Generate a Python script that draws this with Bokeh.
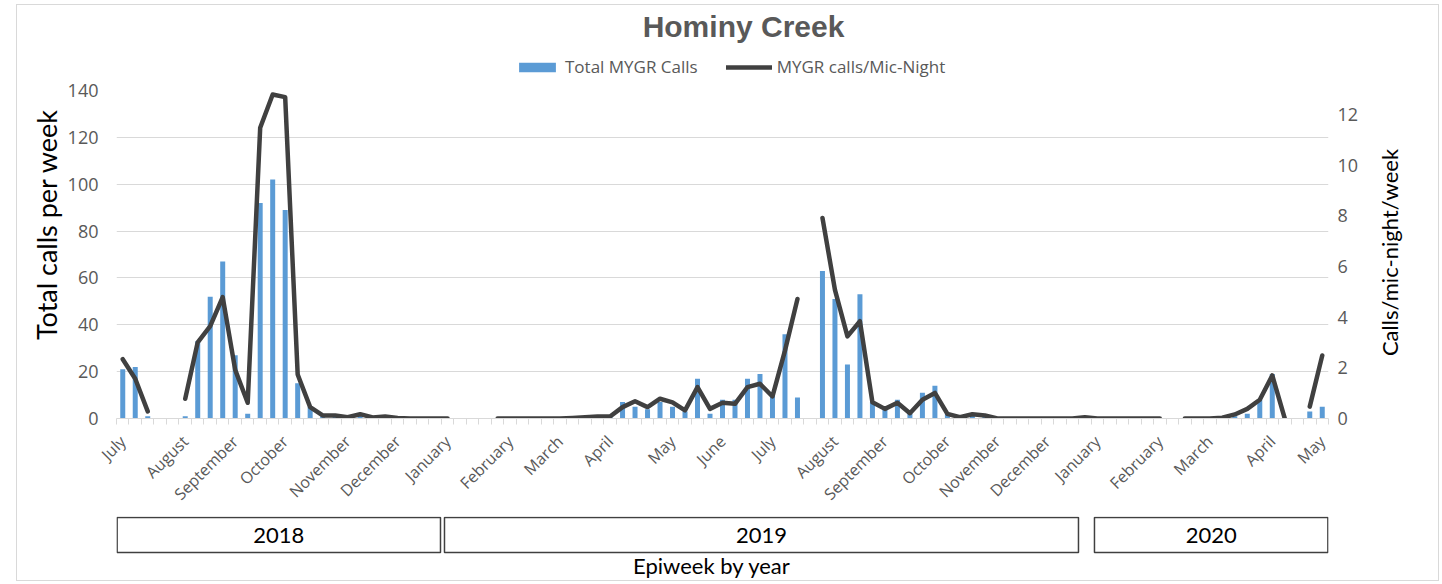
import math
from bokeh.plotting import figure
from bokeh.models import (Range1d, LinearAxis, FixedTicker, Legend, LegendItem,
                          Label, ColumnDataSource)
from bokeh.layouts import column, row
from bokeh.embed import file_html
from bokeh.resources import INLINE
from bokeh.core.properties import value

nan = float("nan")

# ---------------- data (one entry per epiweek, 2018 wk27 .. 2020 wk19) -------------
total_calls = [
    21, 22, 1, nan, nan, 1, 33, 52, 67, 27, 2, 92, 102, 89, 15, 5, 1, 1, 0, 2,
    0, 1, 0, 0, 0, 0, nan, nan, nan, nan, 0, 0, 0, 0, 0, 0, 0, 1, 1, 1,
    7, 5, 4, 7, 5, 3, 17, 2, 8, 8, 17, 19, 10, 36, 9, nan, 63, 51, 23, 53,
    7, 4, 8, 2, 11, 14, 2, 1, 2, 1, 0, 0, 0, 0, 0, 0, 0, 1, 0, 0,
    0, 0, 0, 0, nan, 0, 0, 0, 0, 1, 2, 8, 19, 0, nan, 3, 5,
]
calls_per_mic_night = [
    2.34, 1.57, 0.28, nan, nan, 0.78, 3.01, 3.65, 4.79, 1.92, 0.62, 11.48, 12.79, 12.69, 1.74, 0.45, 0.12, 0.12, 0.05, 0.17,
    0.04, 0.08, 0.02, 0, 0, 0, 0, nan, nan, nan, 0, 0, 0, 0, 0, 0, 0.02, 0.05, 0.08, 0.08,
    0.45, 0.68, 0.45, 0.78, 0.64, 0.32, 1.24, 0.38, 0.62, 0.58, 1.24, 1.37, 0.87, 2.68, 4.72, nan, 7.92, 5.08, 3.24, 3.84,
    0.64, 0.38, 0.62, 0.21, 0.74, 1.01, 0.18, 0.05, 0.17, 0.12, 0, 0, 0, 0, 0, 0, 0, 0.05, 0, 0,
    0, 0, 0, 0, nan, 0, 0, 0, 0.03, 0.16, 0.38, 0.74, 1.70, 0, nan, 0.47, 2.49,
]
week_index = list(range(len(total_calls)))

month_labels = ["July", "August", "September", "October", "November", "December",
                "January", "February", "March", "April", "May", "June", "July",
                "August", "September", "October", "November", "December",
                "January", "February", "March", "April", "May"]
month_label_weeks = [0, 5, 9, 13, 18, 22,
                     26, 31, 35, 39, 44, 48, 52, 57, 61, 66, 70, 74,
                     78, 83, 87, 92, 96]

years = ["2018", "2019", "2020"]
year_box_start = [-0.45, 25.75, 77.77]
year_box_end = [25.43, 76.49, 96.45]

left_ticks = [0, 20, 40, 60, 80, 100, 120, 140]
right_ticks = [0, 2, 4, 6, 8, 10, 12]
left_max = 140
right_max = 12.95

# ---------------- layout constants (page px) ----------------
OX, OY = 17, 5                 # chart area origin on the page
RIGHT_EDGE, BOTTOM_EDGE = 1438, 580
COL_L, COL_R = 64, 1376        # central column (page px)
FRAME_L, FRAME_R = 116, 1328   # plot area left/right (page px)
FRAME_T, FRAME_B = 90, 418     # plot area top/bottom (page px)
TOPPAD = 12                    # room above the frame for the top tick labels
W = COL_R - COL_L
FL = FRAME_L - COL_L
FR = COL_R - FRAME_R
FB = 98
H0 = FRAME_T - TOPPAD - OY                  # header (title + legend)
H1 = TOPPAD + (FRAME_B - FRAME_T) + FB      # main plot
H2 = BOTTOM_EDGE - (FRAME_B + FB)           # year boxes
HT = BOTTOM_EDGE - OY

n = len(week_index)
x0, x1 = -0.5, n - 0.5
cat_px = (FRAME_R - FRAME_L) / n


def xdata(page_x):
    return (page_x - FRAME_L) / cat_px + x0


GRAY = "#595959"
GRID = "#d9d9d9"
BAR = "#5b9bd5"
LINE = "#404040"


def bare(fig):
    fig.outline_line_color = None
    fig.xgrid.grid_line_color = None
    fig.ygrid.grid_line_color = None
    fig.border_fill_color = "white"
    fig.background_fill_color = "white"
    return fig


src = ColumnDataSource(dict(x=week_index, total=total_calls, rate=calls_per_mic_night))

# ---------------- header figure: title and legend ----------------
p0 = bare(figure(width=W, height=H0, x_range=Range1d(x0, x1), y_range=Range1d(H0, 0),
                 output_backend="svg", toolbar_location=None,
                 min_border_left=FL, min_border_right=FR, min_border_top=0,
                 min_border_bottom=0, x_axis_location=None, y_axis_location=None))
# hidden proxies (same data and style as the chart) that feed the legend
bars0 = p0.vbar(x="x", top="total", width=0.4, source=src, fill_color=BAR,
                line_color=None, visible=False)
line0 = p0.line(x="x", y="rate", source=src, line_color=LINE, line_width=4.5,
                line_join="round", line_cap="round", visible=False)
p0.add_layout(Label(x=xdata(743), y=26 - OY, text="Hominy Creek",
                    text_align="center", text_baseline="middle",
                    text_font="Liberation Sans", text_font_size="30px",
                    text_font_style="bold", text_color=GRAY))
legend = Legend(items=[LegendItem(label="Total MYGR Calls", renderers=[bars0]),
                       LegendItem(label="MYGR calls/Mic-Night", renderers=[line0])],
                orientation="horizontal", location=(514 - FRAME_L, 0), click_policy="none",
                border_line_color=None, background_fill_alpha=0,
                label_text_font="Open Sans", label_text_font_size="17px",
                label_text_color=GRAY, glyph_width=46, glyph_height=12,
                spacing=28, label_standoff=5, padding=0, margin=0)
p0.add_layout(legend)

# ---------------- main figure ----------------
p = figure(width=W, height=H1, x_range=p0.x_range, y_range=Range1d(0, left_max),
           output_backend="svg", toolbar_location=None,
           min_border_left=FL, min_border_right=FR, min_border_top=TOPPAD,
           min_border_bottom=FB, y_axis_location=None, x_axis_location=None)
p.outline_line_color = None
p.background_fill_color = "white"
p.border_fill_color = "white"
p.extra_y_ranges = {"rate": Range1d(0, right_max)}

bars = p.vbar(x="x", top="total", width=0.4, source=src, fill_color=BAR, line_color=None)
line = p.line(x="x", y="rate", source=src, y_range_name="rate", line_color=LINE,
              line_width=4.5, line_join="round", line_cap="round")

# x axis
xaxis = LinearAxis(ticker=FixedTicker(ticks=month_label_weeks,
                                      minor_ticks=[x0 + i for i in range(n + 1)]))
xaxis.major_label_overrides = {w: m for w, m in zip(month_label_weeks, month_labels)}
xaxis.major_label_orientation = math.pi / 4
xaxis.major_label_text_font = "Open Sans"
xaxis.major_label_text_font_size = "16px"
xaxis.major_label_text_color = GRAY
xaxis.major_tick_line_color = None
xaxis.major_tick_out = 0
xaxis.major_tick_in = 0
xaxis.minor_tick_line_color = GRID
xaxis.minor_tick_out = 6
xaxis.minor_tick_in = 0
xaxis.axis_line_color = GRID
xaxis.major_label_standoff = 14
p.add_layout(xaxis, "below")

# left axis
yl = LinearAxis(ticker=FixedTicker(ticks=left_ticks))
yl.axis_line_color = None
yl.major_tick_line_color = None
yl.minor_tick_line_color = None
yl.major_tick_out = 0
yl.major_label_standoff = 18
yl.major_label_text_font = "Open Sans"
yl.major_label_text_font_size = "18px"
yl.major_label_text_color = GRAY
p.add_layout(yl, "left")

# right axis
yr = LinearAxis(y_range_name="rate", ticker=FixedTicker(ticks=right_ticks))
yr.axis_line_color = None
yr.major_tick_line_color = None
yr.minor_tick_line_color = None
yr.major_tick_out = 0
yr.major_label_standoff = 9
yr.major_label_text_font = "Open Sans"
yr.major_label_text_font_size = "18px"
yr.major_label_text_color = GRAY
p.add_layout(yr, "right")

p.ygrid.ticker = FixedTicker(ticks=left_ticks)
p.ygrid.grid_line_color = GRID
p.xgrid.grid_line_color = None
p.ygrid.grid_line_width = 1

# ---------------- year boxes figure ----------------
p2 = bare(figure(width=W, height=H2, x_range=p0.x_range, y_range=Range1d(H2, 0),
                 output_backend="svg", toolbar_location=None,
                 min_border_left=FL, min_border_right=FR, min_border_top=0,
                 min_border_bottom=0, x_axis_location=None, y_axis_location=None))
box_src = ColumnDataSource(dict(
    left=year_box_start, right=year_box_end,
    cx=[(a + b) / 2 for a, b in zip(year_box_start, year_box_end)], year=years))
p2.quad(left="left", right="right", top=1, bottom=36, source=box_src,
        fill_color=None, line_color=LINE, line_width=1.5)
p2.text(x="cx", y=18.5, text="year", source=box_src, text_align="center",
        text_baseline="middle", text_font=value("Lato"), text_font_size="22px",
        text_color="black")
p2.text(x=[xdata(711.5)], y=[49], text=["Epiweek by year"],
        text_align="center", text_baseline="middle", text_font=value("Lato"),
        text_font_size="22px", text_color="black")

# ---------------- side strips carrying the two axis titles ----------------
WL = COL_L - OX
qL = bare(figure(width=WL, height=HT, x_range=Range1d(0, WL), y_range=Range1d(HT, 0),
                 output_backend="svg", toolbar_location=None, min_border=0,
                 x_axis_location=None, y_axis_location=None))
qL.text(x=[46 - OX], y=[224 - OY], text=["Total calls per week"], angle=math.pi / 2,
        text_align="center", text_baseline="middle", text_font=value("Lato"),
        text_font_size="27px", text_color="black")

WR = RIGHT_EDGE - COL_R
qR = bare(figure(width=WR, height=HT, x_range=Range1d(0, WR), y_range=Range1d(HT, 0),
                 output_backend="svg", toolbar_location=None, min_border=0,
                 x_axis_location=None, y_axis_location=None))
qR.text(x=[1389 - COL_R], y=[252 - OY], text=["Calls/mic-night/week"], angle=math.pi / 2,
        text_align="center", text_baseline="middle", text_font=value("Lato"),
        text_font_size="22px", text_color="black")

layout = row(qL, column(p0, p, p2, spacing=0), qR, spacing=0,
             styles={"position": "absolute", "left": f"{OX}px", "top": f"{OY}px",
                     "outline": "1px solid #d9d9d9"})

open("out.html", "w").write(file_html(layout, INLINE))
